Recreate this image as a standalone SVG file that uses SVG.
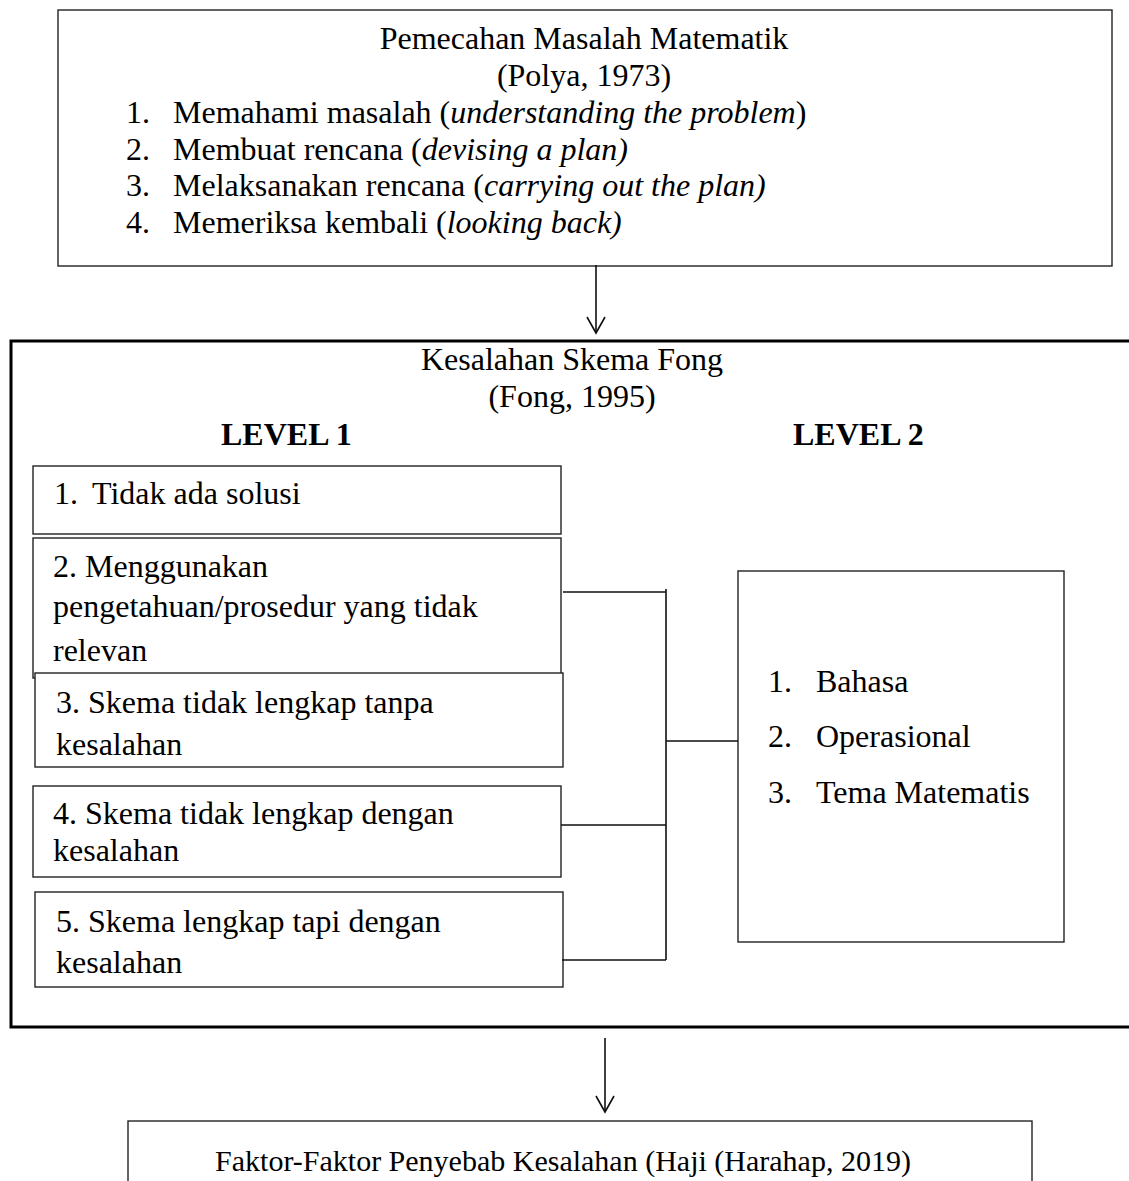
<svg xmlns="http://www.w3.org/2000/svg" width="1129" height="1181" viewBox="0 0 1129 1181">
<style>
text{font-family:"Liberation Serif","Times New Roman",serif;font-size:32px;fill:#000}
.i{font-style:italic}
.b{font-weight:bold}
.box{fill:#fff;stroke:#222;stroke-width:1.4}
.big{fill:none;stroke:#000;stroke-width:3}
.ln{fill:none;stroke:#111;stroke-width:1.6}
.c{text-anchor:middle}
</style>
<defs>
<marker id="arr" markerUnits="userSpaceOnUse" markerWidth="22" markerHeight="22" viewBox="-18 -11 20 22" refX="0" refY="0" orient="auto" overflow="visible">
<path d="M-16,-9 L0,0 L-16,9" fill="none" stroke="#111" stroke-width="1.6"/>
</marker>
</defs>
<rect width="1129" height="1181" fill="#fff"/>

<g id="polya">
<rect class="box" x="58" y="10" width="1054" height="256"/>
<text class="c" x="584" y="49">Pemecahan Masalah Matematik</text>
<text class="c" x="584" y="86">(Polya, 1973)</text>
<text x="126" y="123">1.</text><text x="173" y="123">Memahami masalah (<tspan class="i">understanding the problem</tspan>)</text>
<text x="126" y="160">2.</text><text x="173" y="160">Membuat rencana (<tspan class="i">devising a plan)</tspan></text>
<text x="126" y="196">3.</text><text x="173" y="196">Melaksanakan rencana (<tspan class="i">carrying out the plan)</tspan></text>
<text x="126" y="233">4.</text><text x="173" y="233">Memeriksa kembali (<tspan class="i">looking back)</tspan></text>
</g>

<g id="fong">
<rect class="big" x="11" y="341" width="1130" height="686"/>
<text class="c" x="572" y="370">Kesalahan Skema Fong</text>
<text class="c" x="572" y="407">(Fong, 1995)</text>
<text class="b" x="221" y="445">LEVEL 1</text>
<text class="b" x="793" y="445">LEVEL 2</text>
</g>

<g id="l1-1">
<rect class="box" x="33" y="466" width="528" height="68"/>
<text x="54" y="504">1.</text><text x="92" y="504">Tidak ada solusi</text>
</g>
<g id="l1-2">
<rect class="box" x="33" y="538" width="528" height="140"/>
<text x="53" y="577">2. Menggunakan</text>
<text x="53" y="617">pengetahuan/prosedur yang tidak</text>
<text x="53" y="661">relevan</text>
</g>
<g id="l1-3">
<rect class="box" x="35" y="673" width="528" height="94"/>
<text x="56" y="713">3. Skema tidak lengkap tanpa</text>
<text x="56" y="755">kesalahan</text>
</g>
<g id="l1-4">
<rect class="box" x="33" y="786" width="528" height="91"/>
<text x="53" y="824">4. Skema tidak lengkap dengan</text>
<text x="53" y="861">kesalahan</text>
</g>
<g id="l1-5">
<rect class="box" x="35" y="892" width="528" height="95"/>
<text x="56" y="932">5. Skema lengkap tapi dengan</text>
<text x="56" y="973">kesalahan</text>
</g>

<g id="l2">
<rect class="box" x="738" y="571" width="326" height="371"/>
<text x="768" y="692">1.</text><text x="816" y="692">Bahasa</text>
<text x="768" y="747">2.</text><text x="816" y="747">Operasional</text>
<text x="768" y="803">3.</text><text x="816" y="803">Tema Matematis</text>
</g>

<g id="faktor">
<rect class="box" x="128" y="1121" width="904" height="100"/>
<text class="c" x="563" y="1171" style="font-size:30px">Faktor-Faktor Penyebab Kesalahan (Haji (Harahap, 2019)</text>
</g>

<g id="connectors">
<line class="ln" x1="596" y1="265" x2="596" y2="333" marker-end="url(#arr)"/>
<line class="ln" x1="605" y1="1038" x2="605" y2="1112" marker-end="url(#arr)"/>
<path class="ln" d="M563,592 H666 M666,589 V960 M561,825 H666 M562,960 H666 M666,741 H738"/>
</g>
</svg>
